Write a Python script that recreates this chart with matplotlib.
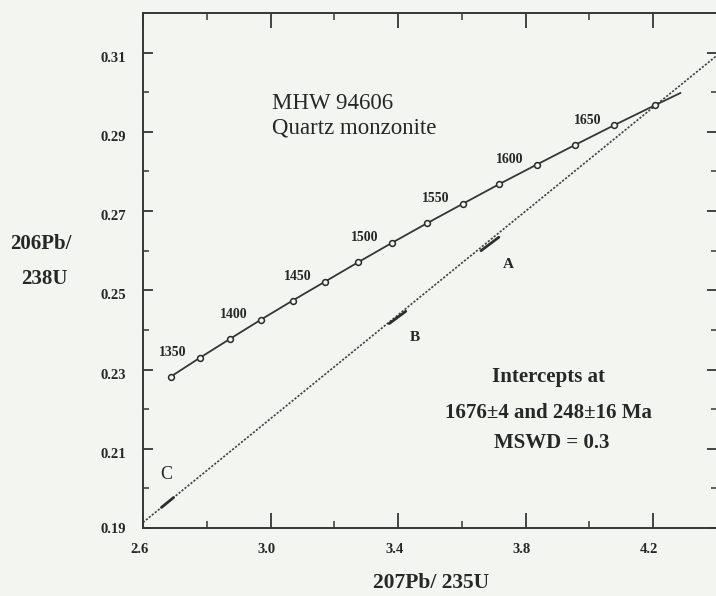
import matplotlib
matplotlib.use("Agg")
import matplotlib.pyplot as plt
from matplotlib.ticker import FixedLocator
from matplotlib.transforms import ScaledTranslation

# ---- data ----
# concordia points (25 Ma steps, 1325-1675 Ma) : 207Pb/235U, 206Pb/238U
conc_x = [2.687, 2.779, 2.874, 2.970, 3.069, 3.171, 3.275, 3.381, 3.490,
          3.602, 3.717, 3.834, 3.955, 4.078, 4.205]
conc_y = [0.2282, 0.2330, 0.2378, 0.2426, 0.2474, 0.2522, 0.2571, 0.2620,
          0.2669, 0.2718, 0.2768, 0.2817, 0.2867, 0.2917, 0.2967]
conc_end = (4.285, 0.2998)           # end of the drawn concordia curve
age_labels = ["1350", "1400", "1450", "1500", "1550", "1600", "1650"]
age_label_idx = [1, 3, 5, 7, 9, 11, 13]

# discordia line end points
disc_x = [2.600, 4.400]
disc_y = [0.1914, 0.3093]

# analyses (elongated error ellipses) along the discordia
ell_names = ["A", "B", "C"]
ell_x0 = [3.660, 3.372, 2.658]
ell_y0 = [0.2600, 0.2416, 0.1952]
ell_x1 = [3.716, 3.424, 2.696]
ell_y1 = [0.2634, 0.2447, 0.1977]
ell_lab_x = [3.745, 3.453, 2.672]
ell_lab_y = [0.2564, 0.2382, 0.2036]

xticks_major = [2.6, 3.0, 3.4, 3.8, 4.2]
xticks_minor = [2.8, 3.2, 3.6, 4.0]
yticks_major = [0.19, 0.21, 0.23, 0.25, 0.27, 0.29, 0.31]
yticks_minor = [0.20, 0.22, 0.24, 0.26, 0.28, 0.30]
xticklabels = ["2.6", "3.0", "3.4", "3.8", "4.2"]
yticklabels = ["0.19", "0.21", "0.23", "0.25", "0.27", "0.29", "0.31"]

# ---- style ----
BG = "#f3f5f0"
INK = "#363636"
TXT = "#272727"
SERIF = ["Liberation Serif", "DejaVu Serif"]
plt.rcParams["font.family"] = SERIF

fig = plt.figure(figsize=(7.16, 5.96), dpi=100, facecolor=BG)
ax = fig.add_axes([143 / 716, 68 / 596, 574 / 716, 515 / 596])
ax.set_facecolor(BG)
ax.set_xlim(2.6, 4.4)
ax.set_ylim(0.19, 0.32)

for s in ax.spines.values():
    s.set_color(INK)
    s.set_linewidth(1.4)

ax.xaxis.set_major_locator(FixedLocator(xticks_major))
ax.xaxis.set_minor_locator(FixedLocator(xticks_minor))
ax.yaxis.set_major_locator(FixedLocator(yticks_major))
ax.yaxis.set_minor_locator(FixedLocator(yticks_minor))
ax.set_xticklabels(xticklabels)
ax.set_yticklabels(yticklabels)

ax.tick_params(axis="x", which="major", direction="in", length=10.5, width=1.3,
               top=True, bottom=True, color=INK, pad=10.5)
ax.tick_params(axis="x", which="minor", direction="in", length=5, width=1.1,
               top=True, bottom=True, color=INK)
ax.tick_params(axis="y", which="major", direction="in", length=7.5, width=1.3,
               left=True, right=True, color=INK, pad=12)
ax.tick_params(axis="y", which="minor", direction="in", length=4, width=1.1,
               left=True, right=True, color=INK)
for lab in ax.get_xticklabels() + ax.get_yticklabels():
    lab.set_fontweight("bold")
    lab.set_fontsize(10.5)
    lab.set_color(TXT)
off_x = ScaledTranslation(-4 / 100, 0, fig.dpi_scale_trans)
for lab in ax.get_xticklabels():
    lab.set_transform(lab.get_transform() + off_x)
off_y = ScaledTranslation(0, -4 / 100, fig.dpi_scale_trans)
for lab in ax.get_yticklabels()[1:]:
    lab.set_transform(lab.get_transform() + off_y)

# discordia (dotted)
ax.plot(disc_x, disc_y, color="#404040", lw=1.2, linestyle=(0, (1.3, 1.0)),
        clip_on=False, zorder=2)

# analyses
for x0, y0, x1, y1 in zip(ell_x0, ell_y0, ell_x1, ell_y1):
    ax.plot([x0, x1], [y0, y1], color="#2e2e2e", lw=2.0,
            solid_capstyle="round", zorder=3)
for name, lx, ly in zip(ell_names, ell_lab_x, ell_lab_y):
    ax.text(lx, ly, name, ha="center", va="center", fontsize=11 if name != "C" else 13,
            fontweight="bold" if name != "C" else "normal", color=TXT)

# concordia
ax.plot(conc_x + [conc_end[0]], conc_y + [conc_end[1]], color=INK, lw=1.3, zorder=4)
ax.plot(conc_x, conc_y, linestyle="none", marker="o", markersize=4.2,
        markerfacecolor=BG, markeredgecolor="#2a2a2a", markeredgewidth=1.1, zorder=5)
for lab, i in zip(age_labels, age_label_idx):
    ax.annotate(lab, (conc_x[i], conc_y[i]), xytext=(-27, 5),
                textcoords="offset pixels", ha="center", va="center",
                fontsize=10, fontweight="bold", color=TXT)

# annotations
ax.text(0.2251, 0.825, "MHW 94606", transform=ax.transAxes, ha="left", va="center",
        fontsize=16.5, color=TXT)
ax.text(0.2251, 0.777, "Quartz monzonite", transform=ax.transAxes, ha="left",
        va="center", fontsize=16.5, color=TXT)
ax.text(0.707, 0.293, "Intercepts at", transform=ax.transAxes, ha="center",
        va="center", fontsize=15, fontweight="bold", color=TXT)
ax.text(0.707, 0.2233, "1676±4 and 248±16 Ma", transform=ax.transAxes,
        ha="center", va="center", fontsize=15, fontweight="bold", color=TXT)
ax.text(0.712, 0.165, "MSWD = 0.3", transform=ax.transAxes, ha="center",
        va="center", fontsize=15, fontweight="bold", color=TXT)

# axis titles
fig.text(41 / 716, 1 - 244 / 596, "206Pb/", ha="center", va="center",
         fontsize=15, fontweight="bold", color=TXT)
fig.text(44 / 716, 1 - 279 / 596, "238U", ha="center", va="center",
         fontsize=15, fontweight="bold", color=TXT)
fig.text(431 / 716, 1 - 583 / 596, "207Pb/ 235U", ha="center", va="center",
         fontsize=15.5, fontweight="bold", color=TXT)

fig.savefig("out.png", dpi=100, facecolor=BG)
